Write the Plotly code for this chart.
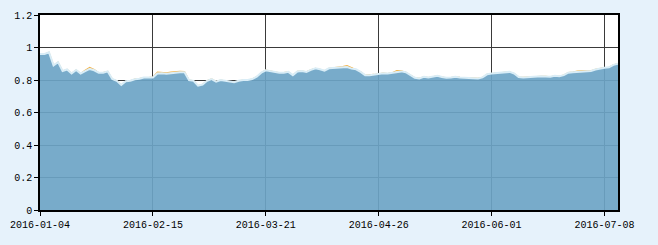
import pandas as pd
import plotly.graph_objects as go

# Trading days (China A-share calendar, 2016)
holidays = ["2016-02-08", "2016-02-09", "2016-02-10", "2016-02-11", "2016-02-12",
            "2016-04-04", "2016-05-02", "2016-06-09", "2016-06-10"]
dates = [d.strftime("%Y-%m-%d") for d in
         pd.bdate_range("2016-01-04", "2016-07-13", freq="C", holidays=holidays)]

blue_vals = [
    0.96, 0.96, 0.97, 0.89, 0.91, 0.855, 0.865, 0.84, 0.862, 0.84,
    0.855, 0.868, 0.86, 0.845, 0.845, 0.853, 0.806, 0.795, 0.77, 0.792,
    0.795, 0.805, 0.808, 0.815, 0.815, 0.815, 0.84, 0.842, 0.838, 0.842,
    0.845, 0.847, 0.848, 0.80, 0.795, 0.765, 0.772, 0.795, 0.806, 0.79,
    0.80, 0.796, 0.79, 0.786, 0.795, 0.80, 0.80, 0.806, 0.82, 0.845,
    0.86, 0.855, 0.848, 0.844, 0.845, 0.85, 0.83, 0.853, 0.855, 0.85,
    0.862, 0.872, 0.866, 0.857, 0.872, 0.874, 0.876, 0.878, 0.88, 0.87,
    0.866, 0.85, 0.83, 0.83, 0.834, 0.838, 0.842, 0.84, 0.845, 0.852,
    0.853, 0.848, 0.83, 0.814, 0.81, 0.82, 0.815, 0.82, 0.826, 0.818,
    0.814, 0.815, 0.82, 0.816, 0.814, 0.812, 0.81, 0.81, 0.816, 0.835,
    0.84, 0.843, 0.846, 0.85, 0.85, 0.84, 0.818, 0.816, 0.818, 0.82,
    0.823, 0.823, 0.822, 0.82, 0.826, 0.823, 0.83, 0.845, 0.848, 0.85,
    0.85, 0.853, 0.856, 0.865, 0.872, 0.876, 0.878, 0.893, 0.90,
]
orange_vals = [
    0.96, 0.96, 0.97, 0.89, 0.91, 0.855, 0.865, 0.84, 0.862, 0.84,
    0.86, 0.878, 0.864, 0.845, 0.845, 0.853, 0.806, 0.795, 0.77, 0.792,
    0.795, 0.805, 0.808, 0.815, 0.815, 0.818, 0.848, 0.846, 0.844, 0.848,
    0.851, 0.853, 0.852, 0.80, 0.795, 0.765, 0.772, 0.795, 0.806, 0.79,
    0.80, 0.796, 0.79, 0.786, 0.795, 0.80, 0.80, 0.806, 0.82, 0.845,
    0.86, 0.855, 0.848, 0.844, 0.845, 0.85, 0.83, 0.853, 0.855, 0.85,
    0.862, 0.872, 0.866, 0.857, 0.872, 0.874, 0.876, 0.882, 0.888, 0.876,
    0.866, 0.85, 0.83, 0.83, 0.834, 0.838, 0.842, 0.84, 0.845, 0.858,
    0.856, 0.848, 0.83, 0.814, 0.81, 0.82, 0.815, 0.82, 0.826, 0.818,
    0.814, 0.815, 0.82, 0.816, 0.814, 0.812, 0.81, 0.81, 0.816, 0.835,
    0.84, 0.843, 0.846, 0.85, 0.85, 0.84, 0.818, 0.816, 0.818, 0.82,
    0.823, 0.823, 0.822, 0.82, 0.826, 0.823, 0.83, 0.845, 0.848, 0.855,
    0.856, 0.857, 0.856, 0.865, 0.872, 0.876, 0.878, 0.893, 0.90,
]
y_ticks = [0, 0.2, 0.4, 0.6, 0.8, 1, 1.2]
y_tick_labels = ["0", "0.2", "0.4", "0.6", "0.8", "1", "1.2"]
x_ticks = dates[::25]

n = min(len(dates), len(blue_vals))
dates = dates[:n]

fig = go.Figure()
fig.add_trace(go.Scatter(
    x=dates, y=orange_vals[:n], mode="lines",
    line=dict(color="#f2b34a", width=1.2), hoverinfo="skip", showlegend=False,
))
fig.add_trace(go.Scatter(
    x=dates, y=blue_vals[:n], mode="lines", fill="tozeroy",
    fillcolor="rgba(108,164,197,0.92)",
    line=dict(color="#d9edf7", width=2), showlegend=False,
))

font = dict(family="Liberation Mono, DejaVu Sans Mono, monospace", size=10, color="#000")
fig.update_layout(
    width=658, height=245,
    margin=dict(l=38, r=40, t=10, b=35),
    paper_bgcolor="#e6f2fb", plot_bgcolor="#ffffff",
    font=font, showlegend=False,
)
fig.update_xaxes(
    type="category", range=[0, n - 1],
    tickmode="array", tickvals=x_ticks, ticktext=x_ticks,
    showgrid=True, gridcolor="#3a3a3a", gridwidth=1,
    showline=True, linecolor="#000", linewidth=1.5, mirror=True,
    ticks="outside", ticklen=4, tickcolor="#000", tickangle=0,
    tickfont=font, zeroline=False,
)
fig.update_yaxes(
    range=[0, 1.2], tickmode="array", tickvals=y_ticks, ticktext=y_tick_labels,
    showgrid=True, gridcolor="#3a3a3a", gridwidth=1,
    showline=True, linecolor="#000", linewidth=1.5, mirror=True,
    ticks="outside", ticklen=4, tickcolor="#000",
    tickfont=font, zeroline=False,
)

fig.write_html("out.html")
